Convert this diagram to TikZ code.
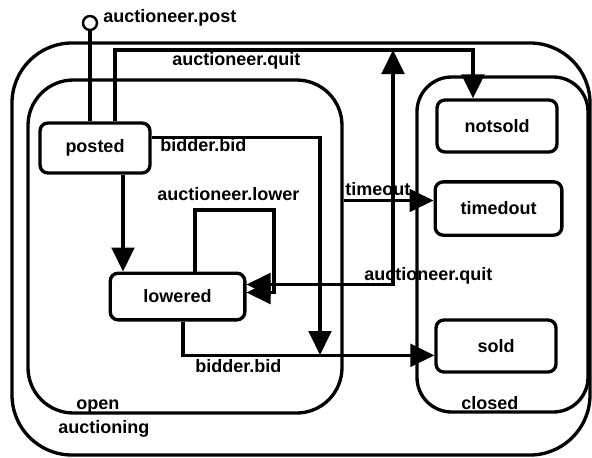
\documentclass[tikz,border=0pt]{standalone}
\usepackage{fontspec}
\setmainfont{Liberation Sans}
\usetikzlibrary{arrows.meta}

\tikzset{
  region/.style={draw, line width=2.5pt, inner sep=0pt},
  state/.style={draw, line width=2.5pt, rounded corners=6pt, inner sep=0pt},
  trans/.style={line width=2.5pt, -{Triangle[length=18pt,width=17pt]}},
  plain/.style={line width=2.5pt},
  init/.style={draw, circle, line width=1.8pt, minimum size=10.5pt, inner sep=0pt},
  lbl/.style={inner sep=0pt, anchor=base west}
}

\begin{document}
\begin{tikzpicture}[x=0.75pt, y=-0.75pt, font=\bfseries\fontsize{13.5}{16}\selectfont]
  \useasboundingbox (0,0) rectangle (592,457);

  % Regions
  \node[region, rounded corners=45pt, minimum width=433.5pt, minimum height=309pt] (auctioning) at (301,249) {};
  \node[region, rounded corners=34pt, minimum width=235.5pt, minimum height=249.75pt] (open) at (185,246.5) {};
  \node[region, rounded corners=26pt, minimum width=128.25pt, minimum height=251.25pt] (closed) at (502.5,244.5) {};
  \node[lbl] (openlbl) at (76,409) {open};
  \node[lbl] (auctlbl) at (58,433) {auctioning};
  \node[lbl] (closedlbl) at (461,409) {closed};

  % States
  \node[state, minimum width=82.5pt, minimum height=37.5pt] (posted) at (95,148) {posted};
  \node[state, minimum width=101pt, minimum height=35pt] (lowered) at (177.5,296.5) {lowered};
  \node[state, minimum width=90pt, minimum height=39pt] (notsold) at (497,126) {notsold};
  \node[state, minimum width=95pt, minimum height=40pt] (timedout) at (498.5,208.5) {timedout};
  \node[state, minimum width=90pt, minimum height=39pt] (sold) at (496,346) {sold};

  % Initial transition
  \node[init] (init) at (90,23) {};
  \draw[plain] (init) -- (init |- posted.north);
  \node[lbl] (postlbl) at (103,22.5) {auctioneer.post};

  % auctioneer.quit from posted
  \coordinate (quitturn) at (473,50);
  \draw[trans] ([xshift=15pt]posted.north) |- (quitturn) -- (quitturn |- notsold.north);
  \node[lbl] (quitlbl) at (172,65.5) {auctioneer.quit};

  % bidder.bid from posted
  \coordinate (bidend) at (320,355);
  \draw[trans] ([yshift=8pt]posted.east) -| (bidend);
  \node[lbl] (bidlbl) at (160,151.5) {bidder.bid};

  % posted to lowered
  \coordinate (lowin) at ([xshift=21pt]posted.south);
  \draw[trans] (lowin) -- (lowin |- lowered.north);

  % auctioneer.lower
  \coordinate (loopturn) at (274,210);
  \draw[trans] ([xshift=13pt]lowered.north) |- (loopturn) |- ([yshift=3pt]lowered.east);
  \node[lbl] (lowerlbl) at (157,200.5) {auctioneer.lower};

  % auctioneer.quit from lowered
  \coordinate (quitup) at (393,50);
  \draw[trans, {Triangle[length=18pt,width=17pt]}-{Triangle[length=18pt,width=17pt]}]
    ([yshift=9pt]lowered.east) -| (quitup);
  \node[lbl] (quitlbl2) at (364,280.5) {auctioneer.quit};

  % timeout
  \coordinate (timeend) at ([yshift=6pt]timedout.west);
  \draw[trans] (open.east |- timeend) -- (timeend);
  \node[lbl] (timelbl) at (345,195) {timeout};

  % bidder.bid from lowered
  \draw[trans] ([xshift=4pt]lowered.south) |- ([yshift=-7pt]sold.west);
  \node[lbl] (bidlbl2) at (195,372.5) {bidder.bid};
\end{tikzpicture}
\end{document}
